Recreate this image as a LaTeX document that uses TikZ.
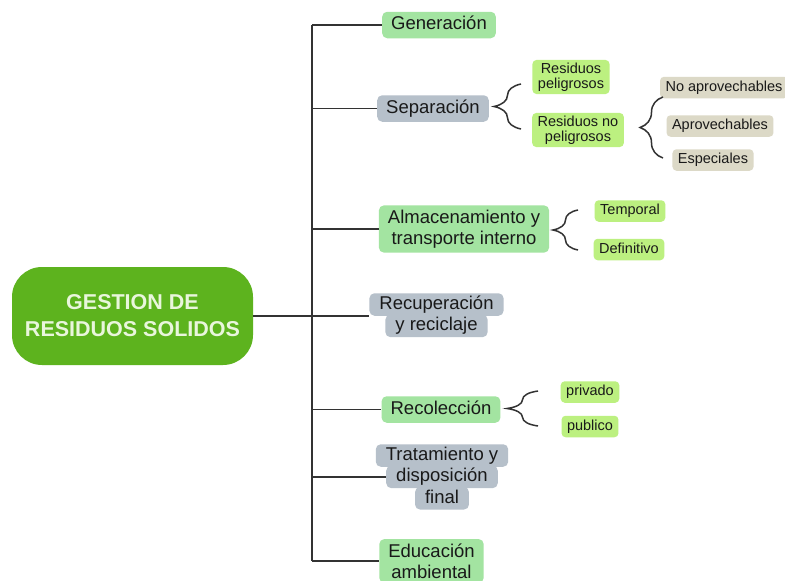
\documentclass[tikz,border=0pt]{standalone}
\usepackage{fontspec}
\usepackage{tikz}
\usepackage{xcolor}
\usetikzlibrary{positioning}
\usetikzlibrary{decorations.pathreplacing}
\setmainfont{Liberation Sans}
\definecolor{ROOT-GREEN}{HTML}{5DB31E}
\definecolor{ROOT-TEXT}{HTML}{E9F6DC}
\definecolor{MAIN-GREEN}{HTML}{A3E4A1}
\definecolor{MAIN-GREY}{HTML}{B6C0CA}
\definecolor{SUB-LIME}{HTML}{BCF080}
\definecolor{SUB-BEIGE}{HTML}{DCD9C7}
\definecolor{LINE-GREY}{HTML}{333333}
\newcommand\bigtxt{\fontsize{18.5}{21}\selectfont}
\newcommand\smalltxt{\fontsize{14.5}{14.5}\selectfont}
\newcommand\roottxt{\fontsize{21.5}{27}\selectfont\bfseries}
\tikzset{
	rootbox/.style={fill=ROOT-GREEN,text=ROOT-TEXT,rounded corners=30,minimum width=241,minimum height=98,align=center,font=\roottxt},
	mainbox/.style={rounded corners=5,inner xsep=9,inner ysep=4.5,align=center,text=black!90,font=\bigtxt},
	greenbox/.style={mainbox,fill=MAIN-GREEN},
	greybox/.style={mainbox,fill=MAIN-GREY},
	oneline/.style={text height=13.5,text depth=4},
	lineslice/.style={oneline,inner xsep=10,inner ysep=2.5},
	subbox/.style={rounded corners=4,inner xsep=5.5,inner ysep=3,align=center,text=black!90,font=\smalltxt},
	limebox/.style={subbox,fill=SUB-LIME},
	beigebox/.style={subbox,fill=SUB-BEIGE},
	subline/.style={text height=10.5,text depth=3,inner ysep=4},
	link/.style={draw=LINE-GREY,line width=1.5},
	curly/.style={link,decorate,decoration={brace,amplitude=#1,aspect=0.5}}
}
\begin{document}
\begin{tikzpicture}[x=1pt,y=-1pt]
			\useasboundingbox (0,0) rectangle (785,581);
			\fill[white] (0,0) rectangle (785,581);

			% draw root
			\node[rootbox] (root) at (132.5,316) {GESTION DE\\RESIDUOS SOLIDOS};

			% draw main steps
			\node[greenbox,oneline] (gen) at (439,25) {Generación};
			\node[greybox,oneline] (sep) at (433,108.5) {Separación};
			\node[greenbox] (alm) at (464,229) {Almacenamiento y\\transporte interno};
			\node[greybox,lineslice] (rec1) at (436.5,304.5) {Recuperación};
			\node[greybox,lineslice,below=-1.5pt of rec1] (rec2) {y reciclaje};
			\node[greenbox,oneline] (recol) at (441,409.5) {Recolección};
			\node[greybox,lineslice] (trat1) at (442,455.5) {Tratamiento y};
			\node[greybox,lineslice,below=-1.5pt of trat1] (trat2) {disposición};
			\node[greybox,lineslice,below=-1.5pt of trat2] (trat3) {final};
			\node[greenbox] (edu) at (431.5,561) {Educación\\ambiental};

			% draw sub steps
			\node[limebox] (pel) at (571,77) {Residuos\\peligrosos};
			\node[limebox] (nopel) at (578,130) {Residuos no\\peligrosos};
			\node[beigebox,subline] (noapr) at (724,87.5) {No aprovechables};
			\node[beigebox,subline] (apr) at (720,126) {Aprovechables};
			\node[beigebox,subline] (esp) at (713,160) {Especiales};
			\node[limebox,subline] (temp) at (630,211) {Temporal};
			\node[limebox,subline] (defi) at (629,249.5) {Definitivo};
			\node[limebox,subline] (priv) at (590,392) {privado};
			\node[limebox,subline] (publ) at (590,426.5) {publico};

			% draw trunk and branches
			\coordinate (trunktop) at (312,25);
			\coordinate (trunkbot) at (312,561);
			\draw[link] (trunktop) -- (trunkbot);
			\draw[link] (root.east) -- (root.east -| rec1.west);
			\foreach \stage in {gen,sep,alm,recol,trat2,edu}
				\draw[link] (\stage.west -| trunktop) -- (\stage.west);

			% draw braces
			\draw[curly=27] (521,129) -- (521,84);
			\draw[curly=23] (663,158) -- (663,97);
			\draw[curly=25] (578,250) -- (578,210);
			\draw[curly=31] (538,426) -- (538,391);
\end{tikzpicture}
\end{document}
